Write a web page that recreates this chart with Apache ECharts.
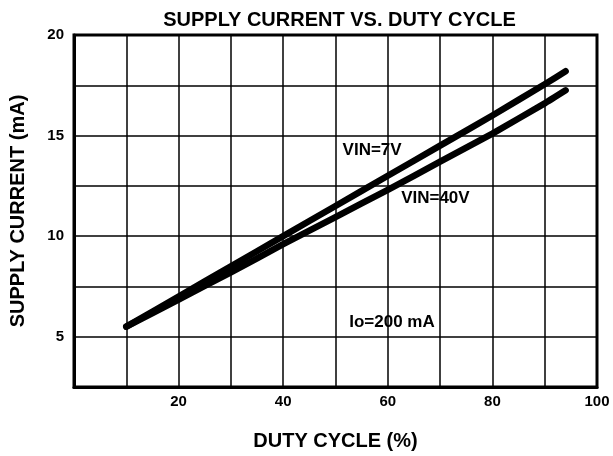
<!DOCTYPE html>
<html>
<head>
<meta charset="utf-8">
<script src="https://cdn.jsdelivr.net/npm/echarts@6/dist/echarts.min.js"></script>
<style>html,body{margin:0;padding:0;background:#fff}#c{width:613px;height:456px}</style>
</head>
<body>
<div id="c"></div>
<script>
const dutyCycle = [10, 20, 30, 40, 50, 60, 70, 80, 90, 94];
const vin7V  = [5.5, 7.0, 8.5, 10.0, 11.5, 13.0, 14.5, 16.0, 17.55, 18.2];
const vin40V = [5.5, 6.85, 8.2, 9.6, 10.95, 12.3, 13.7, 15.1, 16.6, 17.25];
const xTickLabels = [20, 40, 60, 80, 100];
const yTickLabels = [5, 10, 15, 20];
const annotations = [
  {text: 'VIN=7V', x: 57.0, y: 14.29},
  {text: 'VIN=40V', x: 69.1, y: 11.89},
  {text: 'Io=200 mA', x: 60.8, y: 5.74}
];

const F = 'Liberation Sans, Arial, sans-serif';
const chart = echarts.init(document.getElementById('c'), null, {renderer: 'canvas'});
const lineStyle = {color: '#000', width: 6.5, cap: 'round', join: 'round'};
chart.setOption({
  animation: false,
  backgroundColor: '#fff',
  title: {
    text: 'SUPPLY CURRENT VS. DUTY CYCLE',
    left: 334.5, top: 5, textAlign: 'center',
    textStyle: {fontFamily: F, fontWeight: 'bold', fontSize: 20, color: '#000'}
  },
  grid: {left: 72, right: 16, top: 35, bottom: 64, show: true, borderColor: '#000', borderWidth: 3},
  xAxis: {
    type: 'value', min: 0, max: 100, interval: 10,
    name: 'DUTY CYCLE (%)', nameLocation: 'middle', nameGap: 44,
    nameTextStyle: {fontFamily: F, fontWeight: 'bold', fontSize: 20, color: '#000'},
    axisLine: {show: true, lineStyle: {color: '#000', width: 3}},
    axisTick: {show: false},
    splitLine: {show: true, lineStyle: {color: '#000', width: 1.5}},
    axisLabel: {
      fontFamily: F, fontWeight: 'bold', fontSize: 15, color: '#000', margin: 7,
      formatter: v => xTickLabels.includes(v) ? String(v) : ''
    }
  },
  yAxis: {
    type: 'value', min: 2.5, max: 20, interval: 2.5,
    name: 'SUPPLY CURRENT (mA)', nameLocation: 'middle', nameGap: 46, nameRotate: 90,
    nameTextStyle: {fontFamily: F, fontWeight: 'bold', fontSize: 20, color: '#000'},
    axisLine: {show: true, lineStyle: {color: '#000', width: 3}},
    axisTick: {show: false},
    splitLine: {show: true, lineStyle: {color: '#000', width: 1.5}},
    axisLabel: {
      fontFamily: F, fontWeight: 'bold', fontSize: 15, color: '#000', margin: 10,
      formatter: v => yTickLabels.includes(v) ? String(v) : ''
    }
  },
  series: [
    {
      type: 'line', name: 'VIN=7V', data: dutyCycle.map((d, i) => [d, vin7V[i]]),
      symbol: 'none', smooth: 0.15, lineStyle: lineStyle, z: 3,
      markPoint: {
        symbol: 'circle', symbolSize: 0, silent: true,
        label: {show: true, position: 'inside', fontFamily: F, fontWeight: 'bold', fontSize: 17, color: '#000',
          formatter: p => p.name},
        data: annotations.map(a => ({name: a.text, coord: [a.x, a.y]}))
      }
    },
    {
      type: 'line', name: 'VIN=40V', data: dutyCycle.map((d, i) => [d, vin40V[i]]),
      symbol: 'none', smooth: 0.15, lineStyle: lineStyle, z: 3
    }
  ]
});
</script>
</body>
</html>
